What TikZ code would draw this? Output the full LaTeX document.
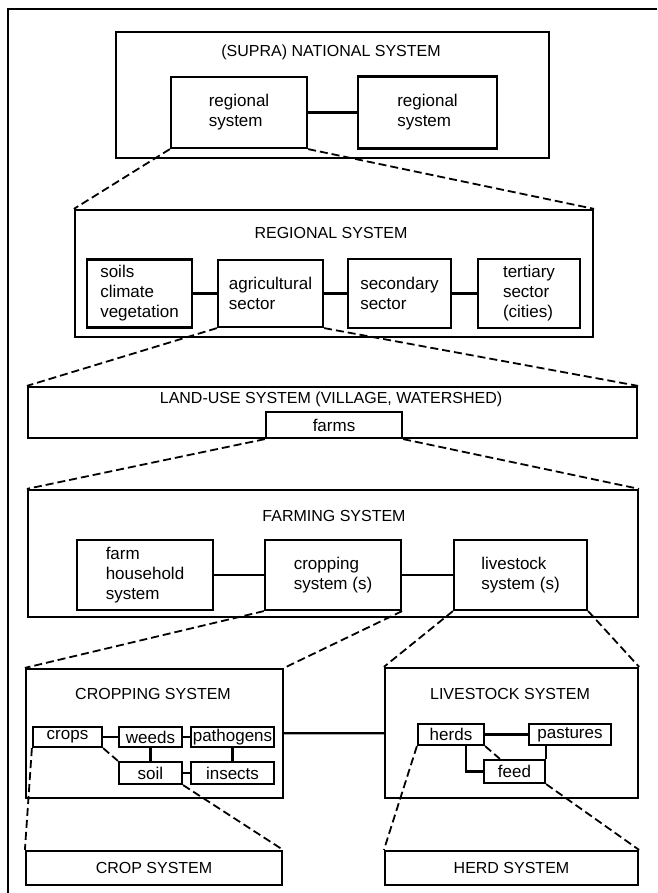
\documentclass[tikz,border=0pt]{standalone}
\usepackage{fontspec}
\setmainfont{Liberation Sans}
\usetikzlibrary{positioning}

\begin{document}
\begin{tikzpicture}[x=1pt,y=-1pt,
        blk/.style={draw,line width=2.2pt,inner sep=0pt},
        sub/.style={draw,line width=2.2pt,inner sep=0pt,align=left,font=\fontsize{17}{20}\selectfont},
        ttl/.style={inner sep=0pt,font=\fontsize{16}{19}\selectfont},
        zoomline/.style={line width=1.8pt,dash pattern=on 8pt off 4pt}]
            \useasboundingbox (0,0) rectangle (657,893);
            \draw[line width=1.6pt] (8,893) -- (8,9) -- (657,9);

            \node[blk,minimum width=433,minimum height=126] (nat)  at (332.5,95)  {};
            \node[blk,minimum width=518,minimum height=127] (reg)  at (334,273.5) {};
            \node[blk,minimum width=609,minimum height=51]  (land) at (332.5,412.5) {};
            \node[blk,minimum width=610,minimum height=127] (farm) at (333,553.5) {};
            \node[blk,minimum width=257,minimum height=129] (crop) at (154.5,733.5) {};
            \node[blk,minimum width=253,minimum height=130] (live) at (511.5,733) {};
            \node[blk,ttl,minimum width=256,minimum height=34] (cropsys) at (154,868)   {CROP SYSTEM};
            \node[blk,ttl,minimum width=253,minimum height=34] (herdsys) at (511.5,868) {HERD SYSTEM};

            \node[ttl] (natttl)  at (331,52)  {(SUPRA) NATIONAL SYSTEM};
            \node[ttl] (regttl)  at (331,233) {REGIONAL SYSTEM};
            \node[ttl] (landttl) at (331,399) {LAND-USE SYSTEM (VILLAGE, WATERSHED)};
            \node[ttl] (farmttl) at (334,516) {FARMING SYSTEM};
            \node[ttl] (cropttl) at (153,694) {CROPPING SYSTEM};
            \node[ttl] (livettl) at (510,694) {LIVESTOCK SYSTEM};

            \node[sub,minimum width=136,minimum height=71] (reg1)  at (239,112.5)   {regional\\system};
            \node[sub,minimum width=139,minimum height=72] (reg2)  at (427.5,112.5) {regional\\system};

            \node[sub,minimum width=105,minimum height=68] (soils) at (139.5,293.5) {soils\\climate\\vegetation};
            \node[sub,minimum width=105,minimum height=67] (agri)  at (270.5,293.5) {agricultural\\sector};
            \node[sub,minimum width=103,minimum height=69] (sec)   at (399.5,293.5) {secondary\\sector};
            \node[sub,minimum width=102,minimum height=69] (tert)  at (529,293.5)   {tertiary\\sector\\(cities)};

            \node[sub,minimum width=136,minimum height=26] (farms) at (334,425) {farms};

            \node[sub,minimum width=136,minimum height=70] (hh) at (145,575)   {farm\\household\\system};
            \node[sub,minimum width=136,minimum height=70] (cs) at (333,575)   {cropping\\system (s)};
            \node[sub,minimum width=133,minimum height=70] (ls) at (520.5,575) {livestock\\system (s)};

            \node[sub,minimum width=69,minimum height=20] (crops) at (67.5,737)  {crops};
            \node[sub,minimum width=63,minimum height=20] (weeds) at (150.5,737) {weeds};
            \node[sub,minimum width=83,minimum height=20] (path)  at (232.5,737) {pathogens};
            \node[sub,minimum width=63,minimum height=22] (soil)  at (150.5,773) {soil};
            \node[sub,minimum width=83,minimum height=22] (ins)   at (232.5,773) {insects};

            \node[sub,minimum width=66,minimum height=21] (herds) at (451,734.5)   {herds};
            \node[sub,minimum width=82,minimum height=21] (past)  at (570,734.5)   {pastures};
            \node[sub,minimum width=61,minimum height=23] (feed)  at (514.5,771.5) {feed};

            \begin{scope}[line width=2.2pt]
                \draw (reg1)  -- (reg2);
                \draw (soils) -- (agri);
                \draw (agri)  -- (sec);
                \draw (sec)   -- (tert);
                \draw (hh)    -- (cs);
                \draw (cs)    -- (ls);
                \draw (crop)  -- (live);
                \draw (crops) -- (weeds);
                \draw (weeds) -- (path);
                \draw (weeds) -- (soil);
                \draw (path)  -- (ins);
                \draw (soil)  -- (ins);
                \draw (herds) -- (past);
                \draw ([xshift=15pt]herds.south) |- (feed.west);
                \draw (feed.north east) -- (feed.north east |- past.south);
            \end{scope}

            \begin{scope}[zoomline]
                \draw (reg1.south west)  -- (reg.north west);
                \draw (reg1.south east)  -- (reg.north east);
                \draw (agri.south west)  -- (land.north west);
                \draw (agri.south east)  -- (land.north east);
                \draw (farms.south west) -- (farm.north west);
                \draw (farms.south east) -- (farm.north east);
                \draw (cs.south west)    -- (crop.north west);
                \draw (cs.south east)    -- (crop.north east);
                \draw (ls.south west)    -- (live.north west);
                \draw (ls.south east)    -- (live.north east);
                \draw (crops.south east) -- (soil.north west);
                \draw (crops.south west) -- (cropsys.north west);
                \draw (soil.south east)  -- (cropsys.north east);
                \draw (herds.south east) -- ([xshift=17pt]feed.north west);
                \draw (herds.south west) -- (herdsys.north west);
                \draw (feed.south east)  -- (herdsys.north east);
            \end{scope}
        \end{tikzpicture}
\end{document}
